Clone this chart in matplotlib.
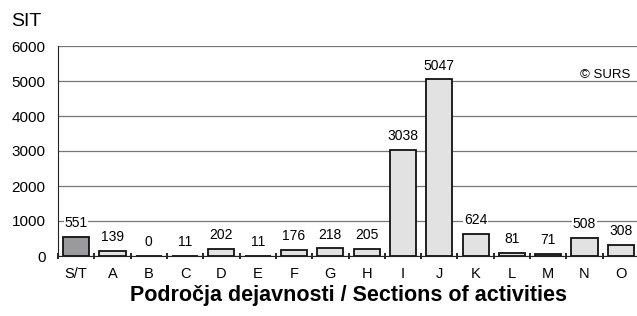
import matplotlib
matplotlib.use('Agg')
import matplotlib.pyplot as plt
from matplotlib import font_manager
import numpy as np

plt.rcParams['font.family'] = ['Liberation Sans', 'DejaVu Sans']

cats = ['S/T', 'A', 'B', 'C', 'D', 'E', 'F', 'G', 'H', 'I', 'J', 'K', 'L', 'M', 'N', 'O']
vals = [551, 139, 0, 11, 202, 11, 176, 218, 205, 3038, 5047, 624, 81, 71, 508, 308]

names = {f.name for f in font_manager.fontManager.ttflist}
narrow = 'Liberation Sans Narrow' if 'Liberation Sans Narrow' in names else 'Liberation Sans'

fig = plt.figure(figsize=(6.37, 3.16), dpi=100)
ax = fig.add_axes([58/637, 60/316, 581/637, 210/316])

xs = np.arange(len(cats))
colors = ['#9a9a9c'] + ['#e2e2e2'] * (len(cats) - 1)
ax.bar(xs, vals, width=0.72, color=colors, edgecolor='#111111', linewidth=1.3, zorder=3)

lblsize = 11 if narrow != 'Liberation Sans' else 10
for x, v in zip(xs, vals):
    ax.annotate(str(v), (x, v), xytext=(0, 7), textcoords='offset points',
                ha='center', va='baseline', fontsize=lblsize, family=[narrow, 'DejaVu Sans'],
                bbox=dict(facecolor='white', edgecolor='none', pad=0.5), zorder=4)

ax.set_xlim(-0.5, 15.5)
ax.set_ylim(0, 6000)
ax.set_yticks(range(0, 6001, 1000))
ax.yaxis.grid(True, color='#777777', linewidth=0.9, zorder=0)
ax.set_axisbelow(True)
ax.tick_params(axis='y', length=0, labelsize=11, pad=9)
ax.set_xticks(xs)
ax.set_xticklabels(cats)
ax.tick_params(axis='x', length=0, labelsize=10.5, pad=8)
ax.set_xticks(np.arange(-0.5, 16, 1), minor=True)
ax.tick_params(axis='x', which='minor', length=4, width=1.2, direction='inout')

for s in ['top', 'right']:
    ax.spines[s].set_visible(False)
ax.spines['left'].set_color('#222222')
ax.spines['bottom'].set_color('#222222')

ax.text(0.985, 0.86, '\u00a9 SURS', transform=ax.transAxes, ha='right', va='center', fontsize=9.5)
fig.text(11/637, 1 - 21/316, 'SIT', fontsize=14, va='center', ha='left')
ax.set_xlabel('Področja dejavnosti / Sections of activities', fontsize=15.5, fontweight='bold', labelpad=3)

fig.savefig('out.png', dpi=100)
